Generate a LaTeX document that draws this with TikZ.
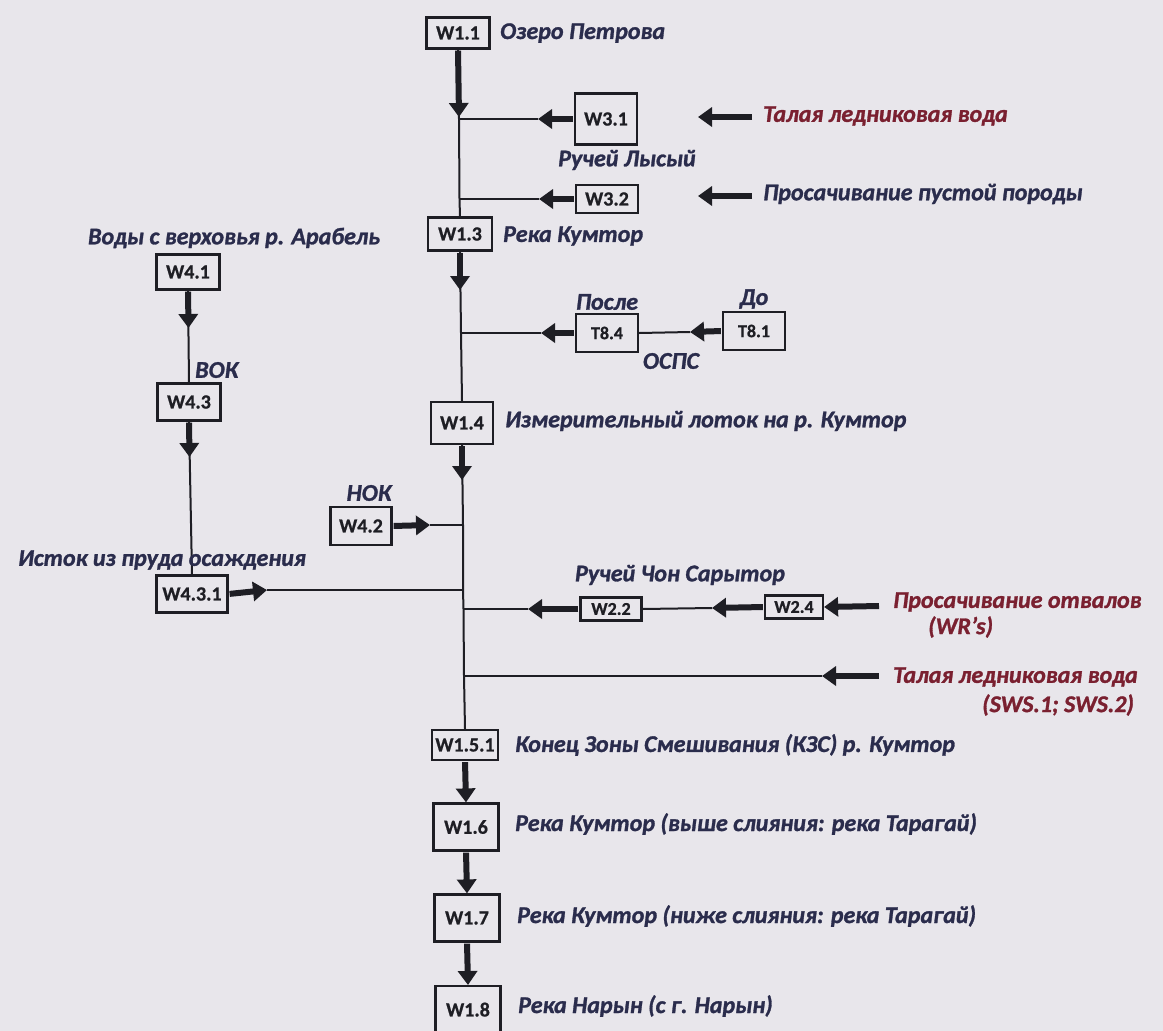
\documentclass[tikz,border=0pt]{standalone}
\usepackage{fontspec}
\setmainfont{Carlito}
\newfontfamily\lblfam[FakeBold=1.2]{Carlito}
\newfontfamily\boxfam[FakeBold=0.8]{Carlito}
\usetikzlibrary{arrows.meta}
\definecolor{bg}{HTML}{E8E6EB}
\definecolor{navy}{HTML}{2A2C4C}
\definecolor{dred}{HTML}{7A2030}
\definecolor{ink}{HTML}{1E1E24}
\newcommand{\lblf}{\lblfam\fontsize{24}{26}\selectfont\bfseries\itshape}
\newcommand{\boxf}{\boxfam\fontsize{20}{22}\selectfont\bfseries}
\newcommand{\sboxf}{\boxfam\fontsize{18}{20}\selectfont\bfseries}
\tikzset{
  stn/.style={draw=ink, line width=2.2pt, fill=bg, text=ink, font=\boxf, inner sep=0pt},
  sstn/.style={stn, font=\sboxf},
  lbl/.style={font=\lblf, text=navy, inner sep=0pt},
  rlbl/.style={lbl, text=dred},
  thin/.style={draw=ink, line width=2pt},
  flow/.style={draw=ink, line width=6pt, -{Triangle[length=14pt,width=19pt]}, shorten <=1pt},
}
\begin{document}
\begin{tikzpicture}[x=1pt,y=-1pt]
\fill[bg] (0,0) rectangle (1163,1031);
\useasboundingbox (0,0) rectangle (1163,1031);
\begin{scope}
\clip (0,0) rectangle (1163,1031);
% main column boxes
\node[stn, minimum width=63pt, minimum height=31pt] (w11) at (458,33) {W1.1};
\node[stn, minimum width=64pt, minimum height=33pt] (w13) at (460,234) {W1.3};
\node[stn, minimum width=62pt, minimum height=42pt] (w14) at (462,423) {W1.4};
\node[stn, minimum width=66pt, minimum height=30pt] (w151) at (465,745) {W1.5.1};
\node[stn, minimum width=65pt, minimum height=47pt] (w16) at (466,827) {W1.6};
\node[stn, minimum width=65pt, minimum height=47pt] (w17) at (467,918) {W1.7};
\node[stn, minimum width=65pt, minimum height=47pt, anchor=north] (w18) at (468,985) {W1.8};
% side boxes
\node[stn, minimum width=62pt, minimum height=51pt] (w31) at (606,119) {W3.1};
\node[stn, minimum width=62pt, minimum height=28pt] (w32) at (607,199) {W3.2};
\node[sstn, minimum width=62pt, minimum height=38pt] (t84) at (607,333) {T8.4};
\node[sstn, minimum width=62pt, minimum height=38pt] (t81) at (754,331) {T8.1};
\node[stn, minimum width=63pt, minimum height=35pt] (w41) at (188,272) {W4.1};
\node[stn, minimum width=63pt, minimum height=37pt] (w43) at (189,402) {W4.3};
\node[stn, minimum width=71pt, minimum height=37pt] (w431) at (192,594) {W4.3.1};
\node[stn, minimum width=61pt, minimum height=38pt] (w42) at (361,526) {W4.2};
\node[sstn, minimum width=61pt, minimum height=23pt] (w22) at (611,609) {W2.2};
\node[sstn, minimum width=58pt, minimum height=23pt] (w24) at (794,607) {W2.4};
% junctions and arrow tips
\coordinate (j31) at (459,119);
\coordinate (j32) at (459.5,199);
\coordinate (jt) at (461,333);
\coordinate (j42) at (463,525);
\coordinate (j431) at (463,590);
\coordinate (j22) at (463.5,609);
\coordinate (jsw) at (464,676);
\coordinate (m1) at (459,117);
\coordinate (m3) at (460,290);
\coordinate (m4) at (462,480);
\coordinate (l1) at (188.5,328);
\coordinate (l3) at (189.5,457);
\coordinate (a31) at (538,119);
\coordinate (a32) at (539,199);
\coordinate (at84) at (541,333);
\coordinate (at81) at (690,332);
\coordinate (a42) at (430,525);
\coordinate (a431) at (267,590);
\coordinate (a22) at (528,609);
\coordinate (a24) at (712,608);
\coordinate (s1a) at (753,117);
\coordinate (s1b) at (698,117);
\coordinate (s2a) at (753,196);
\coordinate (s2b) at (698,196);
\coordinate (s3a) at (880,606);
\coordinate (s4a) at (880,676);
\coordinate (s4b) at (822,676);
% thin lines
\draw[thin] (w11.south) -- (j31) -- (j32) -- (w13.north);
\draw[thin] (w13.south) -- (jt) -- (w14.north);
\draw[thin] (w14.south) -- (j42) -- (j431) -- (j22) -- (jsw) -- (w151.north);
\draw[thin] (w41.south) -- (w43.north);
\draw[thin] (w43.south) -- (w431.north);
\draw[thin] (a31) -- (j31);
\draw[thin] (a32) -- (j32);
\draw[thin] (at84) -- (jt);
\draw[thin] (at81) -- (t84.east);
\draw[thin] (a42) -- (j42);
\draw[thin] (a431) -- (j431);
\draw[thin] (a22) -- (j22);
\draw[thin] (a24) -- (w22.east);
\draw[thin] (s4b) -- (jsw);
% thick flow arrows
\draw[flow] (w11.south) -- (m1);
\draw[flow] (w13.south) -- (m3);
\draw[flow] (w14.south) -- (m4);
\draw[flow] (w151.south) -- (w16.north);
\draw[flow] (w16.south) -- (w17.north);
\draw[flow] (w17.south) -- (w18.north);
\draw[flow] (w41.south) -- (l1);
\draw[flow] (w43.south) -- (l3);
\draw[flow] (w31.west) -- (a31);
\draw[flow] (w32.west) -- (a32);
\draw[flow] (t84.west) -- (at84);
\draw[flow] (t81.west) -- (at81);
\draw[flow] (w42.east) -- (a42);
\draw[flow] (w431.east) -- (a431);
\draw[flow] (w22.west) -- (a22);
\draw[flow] (w24.west) -- (a24);
\draw[flow] (s1a) -- (s1b);
\draw[flow] (s2a) -- (s2b);
\draw[flow] (s3a) -- (w24.east);
\draw[flow] (s4a) -- (s4b);
\end{scope}
% labels
\node[lbl, anchor=west] (tw11) at (500,33) {Озеро Петрова};
\node[rlbl, anchor=west] (ts1) at (763,116) {Талая ледниковая вода};
\node[lbl] (tw31) at (627,160) {Ручей Лысый};
\node[lbl, anchor=west] (ts2) at (763,194) {Просачивание пустой породы};
\node[lbl, anchor=west] (tw13) at (503,236) {Река Кумтор};
\node[lbl] (tw41) at (234,238) {Воды с верховья р. Арабель};
\node[lbl] (tt84) at (607,302) {После};
\node[lbl] (tt81) at (754,299) {До};
\node[lbl] (tospc) at (671,361) {ОСПС};
\node[lbl, anchor=west] (tw43) at (195,370) {ВОК};
\node[lbl, anchor=west] (tw14) at (505,421) {Измерительный лоток на р. Кумтор};
\node[lbl] (tw42) at (369,493) {НОК};
\node[lbl, anchor=west] (tw431) at (18,560) {Исток из пруда осаждения};
\node[lbl] (tw22) at (680,575) {Ручей Чон Сарытор};
\node[rlbl, anchor=west] (ts3) at (893,602) {Просачивание отвалов};
\node[rlbl, anchor=west] (ts3b) at (928,627) {(WR’s)};
\node[rlbl, anchor=west] (ts4) at (893,677) {Талая ледниковая вода};
\node[rlbl, anchor=west] (ts4b) at (982,705) {(SWS.1; SWS.2)};
\node[lbl, anchor=west] (tw151) at (515,745) {Конец Зоны Смешивания (КЗС) р. Кумтор};
\node[lbl, anchor=west] (tw16) at (515,824) {Река Кумтор (выше слияния: река Тарагай)};
\node[lbl, anchor=west] (tw17) at (517,916) {Река Кумтор (ниже слияния: река Тарагай)};
\node[lbl, anchor=west] (tw18) at (518,1006) {Река Нарын (с г. Нарын)};
\end{tikzpicture}
\end{document}
